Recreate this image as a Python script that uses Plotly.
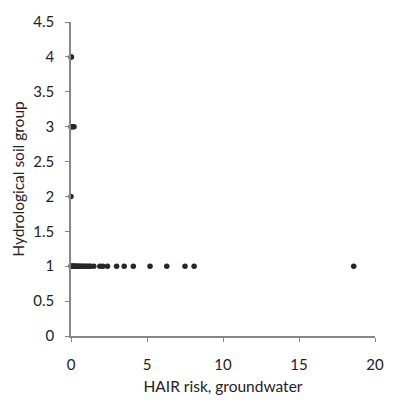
import plotly.graph_objects as go

# HAIR risk (groundwater) and hydrological soil group
risk_g1 = [0, 0.02, 0.05, 0.08, 0.1, 0.15, 0.2, 0.25, 0.3, 0.35, 0.4, 0.5, 0.55,
           0.6, 0.7, 0.8, 0.9, 1.0, 1.1, 1.2, 1.3, 1.5,
           1.9, 2.1, 2.4, 3.0, 3.5, 4.1, 5.2, 6.3, 7.5, 8.1, 18.6]
risk_g2 = [0]
risk_g3 = [0, 0.05, 0.1, 0.2]
risk_g4 = [0, 0.03]

x_vals = risk_g1 + risk_g2 + risk_g3 + risk_g4
y_vals = [1] * len(risk_g1) + [2] * len(risk_g2) + [3] * len(risk_g3) + [4] * len(risk_g4)

x_ticks = [0, 5, 10, 15, 20]
y_ticks = [0, 0.5, 1, 1.5, 2, 2.5, 3, 3.5, 4, 4.5]
y_tick_text = ["0", "0.5", "1", "1.5", "2", "2.5", "3", "3.5", "4", "4.5"]

FONT = "Lato, Open Sans, sans-serif"

fig = go.Figure(go.Scatter(
    x=x_vals, y=y_vals, mode="markers",
    marker=dict(size=5.5, color="#262626"),
    showlegend=False, cliponaxis=False,
))

axis_common = dict(
    showgrid=False, zeroline=False, showline=True, linecolor="#868686", linewidth=1.5,
    ticks="outside", ticklen=4, tickcolor="#868686",
    tickfont=dict(family=FONT, size=15, color="#222222"),
)

fig.update_layout(
    width=396, height=405,
    margin=dict(l=71, r=19, t=14, b=66),
    paper_bgcolor="white", plot_bgcolor="white",
    font=dict(family=FONT, size=15, color="#222222"),
    xaxis=dict(range=[0, 20], tickvals=x_ticks, ticktext=[str(t) for t in x_ticks],
               ticklabelstandoff=10,
               title=dict(text="HAIR risk, groundwater", standoff=9,
                          font=dict(size=15.5)), **axis_common),
    yaxis=dict(range=[0, 4.5], tickvals=y_ticks, ticktext=y_tick_text,
               ticklabelstandoff=8,
               title=dict(text="Hydrological soil group", standoff=5,
                          font=dict(size=15.5)), **axis_common),
)

fig.write_html("out.html")
